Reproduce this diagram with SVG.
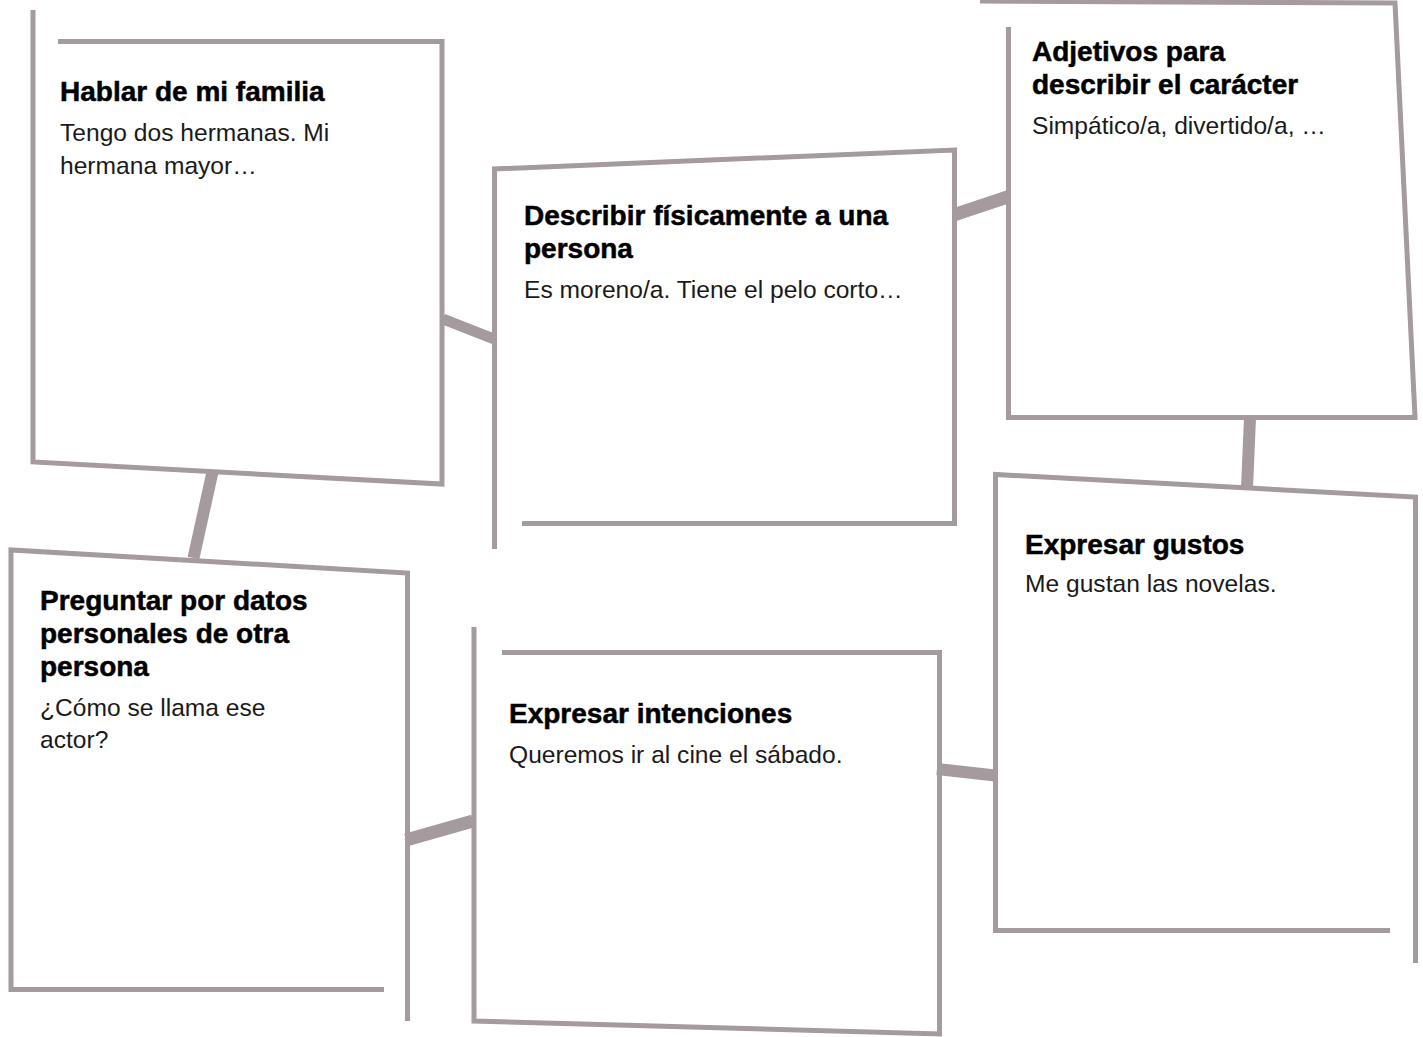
<svg xmlns="http://www.w3.org/2000/svg" width="1423" height="1037" viewBox="0 0 1423 1037">
<style>
.frame{fill:none;stroke:#a59a9e;stroke-width:5;stroke-linejoin:miter;stroke-linecap:butt}
.conn{fill:none;stroke:#a59a9e;stroke-linecap:butt}
.t{font-family:"Liberation Sans",Arial,Helvetica,sans-serif;font-weight:bold;font-size:28px;fill:#000;stroke:#000;stroke-width:0.5}
.b{font-family:"Liberation Sans",Arial,Helvetica,sans-serif;font-size:24.6px;fill:#1a1a1a}
</style>
<rect width="1423" height="1037" fill="#fff"/>
<g id="connectors">
<line class="conn" x1="212.5" y1="472" x2="193.5" y2="558" stroke-width="12"/>
<line class="conn" x1="443" y1="319" x2="494" y2="339" stroke-width="11"/>
<line class="conn" x1="955" y1="214.5" x2="1009" y2="196.5" stroke-width="13"/>
<line class="conn" x1="406" y1="840" x2="473" y2="821" stroke-width="13"/>
<line class="conn" x1="937" y1="769" x2="995" y2="775.5" stroke-width="12"/>
<line class="conn" x1="1250" y1="418" x2="1247" y2="488" stroke-width="12"/>
</g>
<g id="node-familia">
<polyline class="frame" points="33,10 33,462 442,484 442,41.5 58,41.5"/>
<text class="t" x="60" y="101">Hablar de mi familia</text>
<text class="b" x="60" y="141">Tengo dos hermanas. Mi</text>
<text class="b" x="60" y="174">hermana mayor…</text>
</g>
<g id="node-describir">
<polyline class="frame" points="494.5,549 494.5,169 954.5,150 954.5,523.5 522,523.5"/>
<text class="t" x="524" y="225">Describir físicamente a una</text>
<text class="t" x="524" y="258">persona</text>
<text class="b" x="524" y="298">Es moreno/a. Tiene el pelo corto…</text>
</g>
<g id="node-adjetivos">
<polyline class="frame" points="1008.5,27 1008.5,417.5 1415,417.5 1395,3 980,1"/>
<text class="t" x="1032" y="61">Adjetivos para</text>
<text class="t" x="1032" y="94">describir el carácter</text>
<text class="b" x="1032" y="134">Simpático/a, divertido/a, …</text>
</g>
<g id="node-preguntar">
<polyline class="frame" points="407.5,1021 407.5,573 11,550 11,989.5 384,989.5"/>
<text class="t" x="40" y="610">Preguntar por datos</text>
<text class="t" x="40" y="643">personales de otra</text>
<text class="t" x="40" y="676">persona</text>
<text class="b" x="40" y="716">¿Cómo se llama ese</text>
<text class="b" x="40" y="748">actor?</text>
</g>
<g id="node-intenciones">
<polyline class="frame" points="474,627 474,1021 939.5,1034 939.5,652.5 502,652.5"/>
<text class="t" x="509" y="723">Expresar intenciones</text>
<text class="b" x="509" y="763">Queremos ir al cine el sábado.</text>
</g>
<g id="node-gustos">
<polyline class="frame" points="1390,930.5 995.5,930.5 995.5,474.5 1415.5,497 1415.5,963"/>
<text class="t" x="1025" y="554">Expresar gustos</text>
<text class="b" x="1025" y="592">Me gustan las novelas.</text>
</g>
</svg>
